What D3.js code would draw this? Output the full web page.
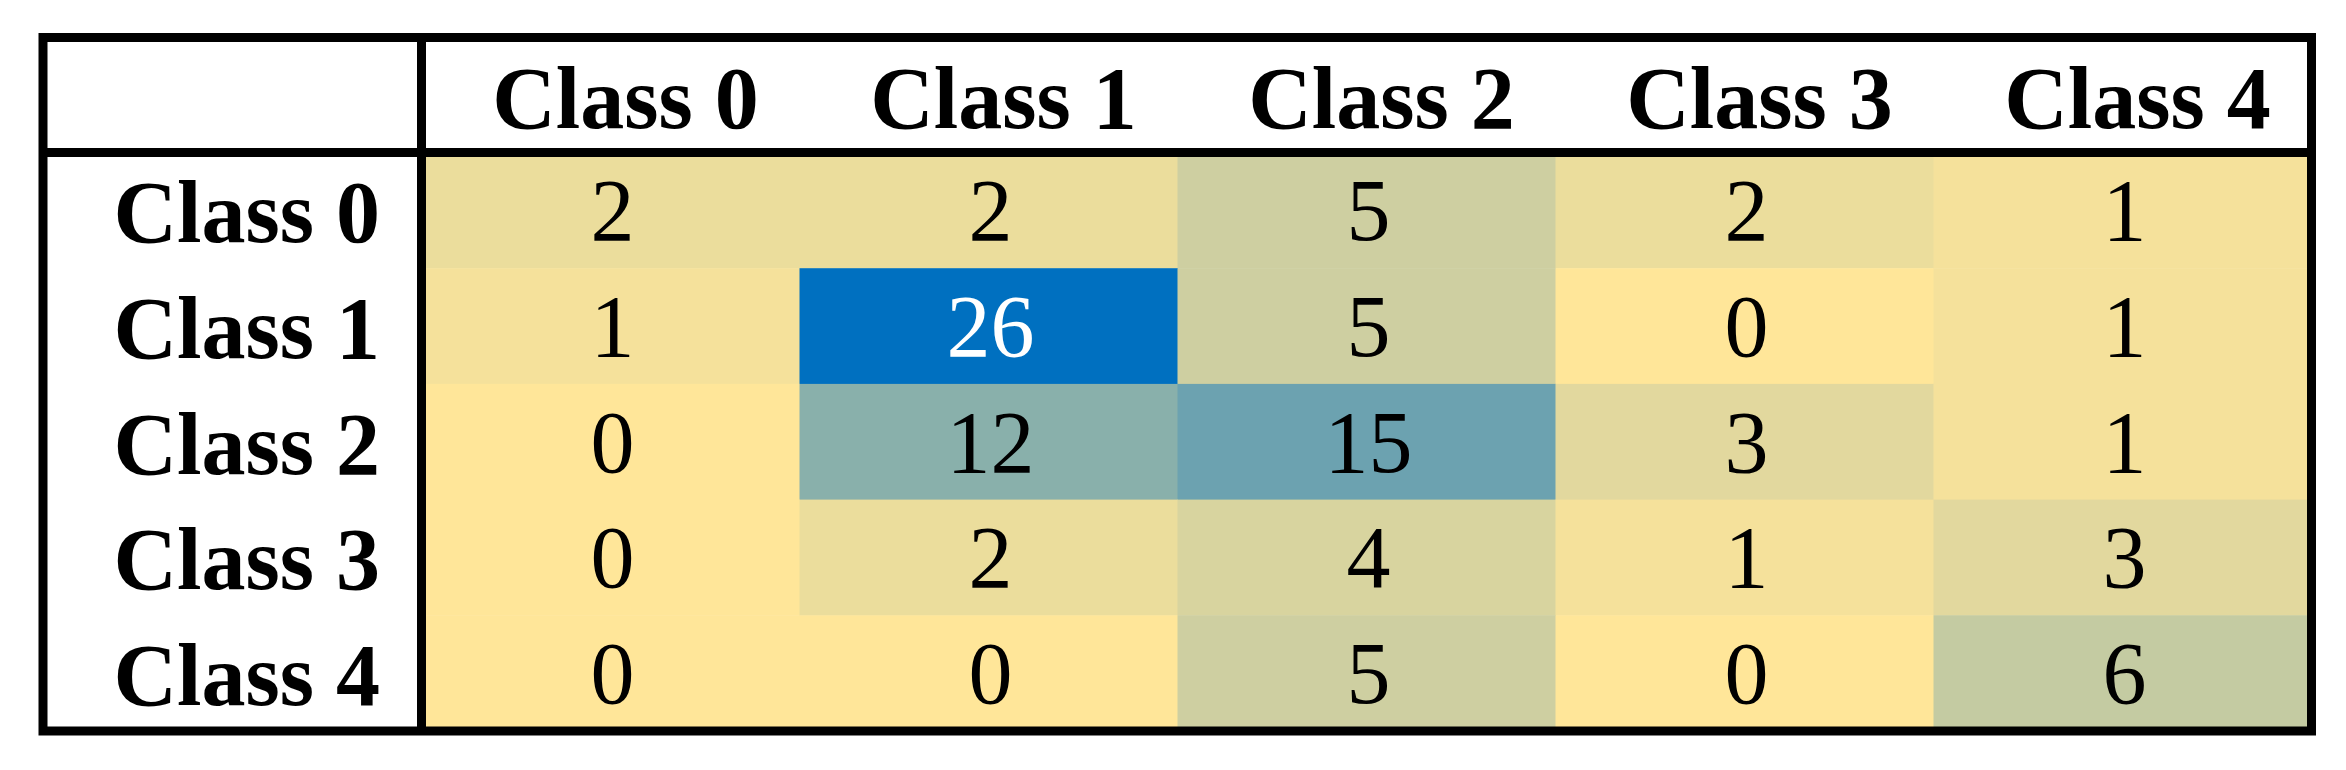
<!DOCTYPE html>
<html>
<head>
<meta charset="utf-8">
<script src="https://cdn.jsdelivr.net/npm/d3@7"></script>
<style>
  html, body { margin: 0; padding: 0; background: #ffffff; }
  svg { display: block; }
</style>
</head>
<body>
<div id="chart"></div>
<script>
// --- DATA ---
var rowLabels = ["Class 0", "Class 1", "Class 2", "Class 3", "Class 4"];
var colLabels = ["Class 0", "Class 1", "Class 2", "Class 3", "Class 4"];
var row0 = [2, 2, 5, 2, 1];
var row1 = [1, 26, 5, 0, 1];
var row2 = [0, 12, 15, 3, 1];
var row3 = [0, 2, 4, 1, 3];
var row4 = [0, 0, 5, 0, 6];
var matrix = [row0, row1, row2, row3, row4];

var width = 2346, height = 770;
var box = {left: 43, top: 37.5, right: 2311.5, bottom: 731};
var headerBottom = 152.5, labelRight = 421.5;
var fontFamily = "'Liberation Serif', 'Times New Roman', serif";

var svg = d3.select("#chart")
    .append("svg")
    .attr("width", width)
    .attr("height", height);

// --- SCALES ---
var xScale = d3.scaleBand()
    .domain(colLabels)
    .range([labelRight, box.right]);
var yScale = d3.scaleBand()
    .domain(rowLabels)
    .range([headerBottom, box.bottom]);

var maxVal = d3.max(matrix, function(r){ return d3.max(r); });
var color = d3.scaleLinear()
    .domain([0, maxVal])
    .range(["#FFE699", "#0070C0"])
    .interpolate(d3.interpolateRgb);

// flatten into cells
var cells = [];
matrix.forEach(function(r, i){
    r.forEach(function(v, j){
        cells.push({row: rowLabels[i], col: colLabels[j], value: v});
    });
});

// --- CELLS ---
svg.append("g")
    .attr("id", "cells")
    .selectAll("rect")
    .data(cells)
    .enter()
    .append("rect")
    .attr("x", function(d){ return xScale(d.col); })
    .attr("y", function(d){ return yScale(d.row); })
    .attr("width", xScale.bandwidth() + 0.5)
    .attr("height", yScale.bandwidth() + 0.5)
    .attr("fill", function(d){ return color(d.value); });

svg.append("g")
    .attr("id", "cell_text")
    .selectAll("text")
    .data(cells)
    .enter()
    .append("text")
    .attr("x", function(d){ return xScale(d.col) + xScale.bandwidth() / 2 + 2; })
    .attr("y", function(d){ return yScale(d.row) + yScale.bandwidth() / 2 + 30; })
    .attr("text-anchor", "middle")
    .attr("font-family", fontFamily)
    .attr("font-size", "88px")
    .attr("fill", function(d){ return d.value / maxVal > 0.7 ? "#ffffff" : "#000000"; })
    .text(function(d){ return d.value; });

// --- HEADERS ---
svg.append("g")
    .attr("id", "col_labels")
    .selectAll("text")
    .data(colLabels)
    .enter()
    .append("text")
    .attr("x", function(d){ return xScale(d) + xScale.bandwidth() / 2 + 15; })
    .attr("y", 128)
    .attr("text-anchor", "middle")
    .attr("font-family", fontFamily)
    .attr("font-weight", "bold")
    .attr("font-size", "88px")
    .attr("fill", "#000000")
    .text(function(d){ return d; });

svg.append("g")
    .attr("id", "row_labels")
    .selectAll("text")
    .data(rowLabels)
    .enter()
    .append("text")
    .attr("x", 380)
    .attr("y", function(d){ return yScale(d) + yScale.bandwidth() / 2 + 32; })
    .attr("text-anchor", "end")
    .attr("font-family", fontFamily)
    .attr("font-weight", "bold")
    .attr("font-size", "88px")
    .attr("fill", "#000000")
    .text(function(d){ return d; });

// --- BORDERS ---
var lines = svg.append("g").attr("id", "borders");
lines.append("line")
    .attr("x1", box.left).attr("x2", box.right)
    .attr("y1", headerBottom).attr("y2", headerBottom)
    .attr("stroke", "#000000").attr("stroke-width", 9);
lines.append("line")
    .attr("x1", labelRight).attr("x2", labelRight)
    .attr("y1", box.top).attr("y2", box.bottom)
    .attr("stroke", "#000000").attr("stroke-width", 9);
lines.append("rect")
    .attr("x", box.left).attr("y", box.top)
    .attr("width", box.right - box.left)
    .attr("height", box.bottom - box.top)
    .attr("fill", "none")
    .attr("stroke", "#000000")
    .attr("stroke-width", 9);
</script>
</body>
</html>
